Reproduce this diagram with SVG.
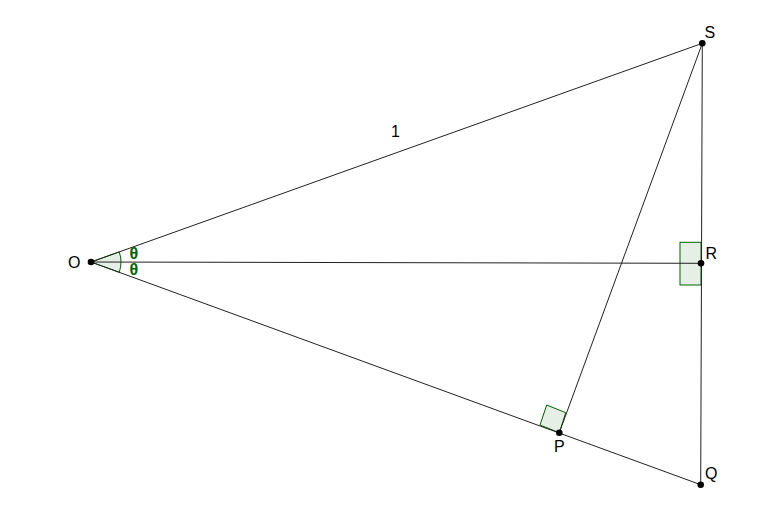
<svg xmlns="http://www.w3.org/2000/svg" width="780" height="515" viewBox="0 0 780 515">
<style>
.seg{stroke:#222;stroke-width:1;fill:none}
.mark{fill:#006400;fill-opacity:0.1;stroke:#006400;stroke-width:1}
.pt{fill:#000}
.lbl{font-family:"Liberation Sans",Arial,sans-serif;font-size:16px;fill:#000}
.th{font-family:"Liberation Sans",Arial,sans-serif;font-size:16px;font-weight:bold;fill:#006400}
</style>
<rect width="780" height="515" fill="#fff"/>
<g id="marks">
<path class="mark" d="M91,262 L119.2,251.9 A30,30 0 0 1 119.2,272.3 Z"/>
<rect class="mark" x="680" y="242.3" width="21" height="42.7"/>
<polygon class="mark" points="559.3,432.7 540,425 546.7,405 565.7,412.7"/>
</g>
<g id="connectors">
<line class="seg" x1="91" y1="262" x2="702.3" y2="43.3"/>
<line class="seg" x1="91" y1="262" x2="701" y2="263.3"/>
<line class="seg" x1="91" y1="262" x2="700.7" y2="484.7"/>
<line class="seg" x1="702.3" y1="43.3" x2="700.7" y2="484.7"/>
<line class="seg" x1="702.3" y1="43.3" x2="559.3" y2="432.7"/>
</g>
<g id="O"><circle class="pt" cx="91" cy="262" r="3.3"/><text class="lbl" x="68" y="267.5">O</text></g>
<g id="S"><circle class="pt" cx="702.3" cy="43.3" r="3.3"/><text class="lbl" x="704.5" y="37.5">S</text></g>
<g id="R"><circle class="pt" cx="701" cy="263.3" r="3.3"/><text class="lbl" x="705.5" y="258.5">R</text></g>
<g id="Q"><circle class="pt" cx="700.7" cy="484.7" r="3.3"/><text class="lbl" x="705" y="479">Q</text></g>
<g id="P"><circle class="pt" cx="559.3" cy="432.7" r="3.3"/><text class="lbl" x="554" y="451.5">P</text></g>
<g id="labels">
<text class="lbl" x="391" y="137">1</text>
<text class="th" x="129.5" y="258.5">θ</text>
<text class="th" x="129.5" y="274.5">θ</text>
</g>
</svg>
